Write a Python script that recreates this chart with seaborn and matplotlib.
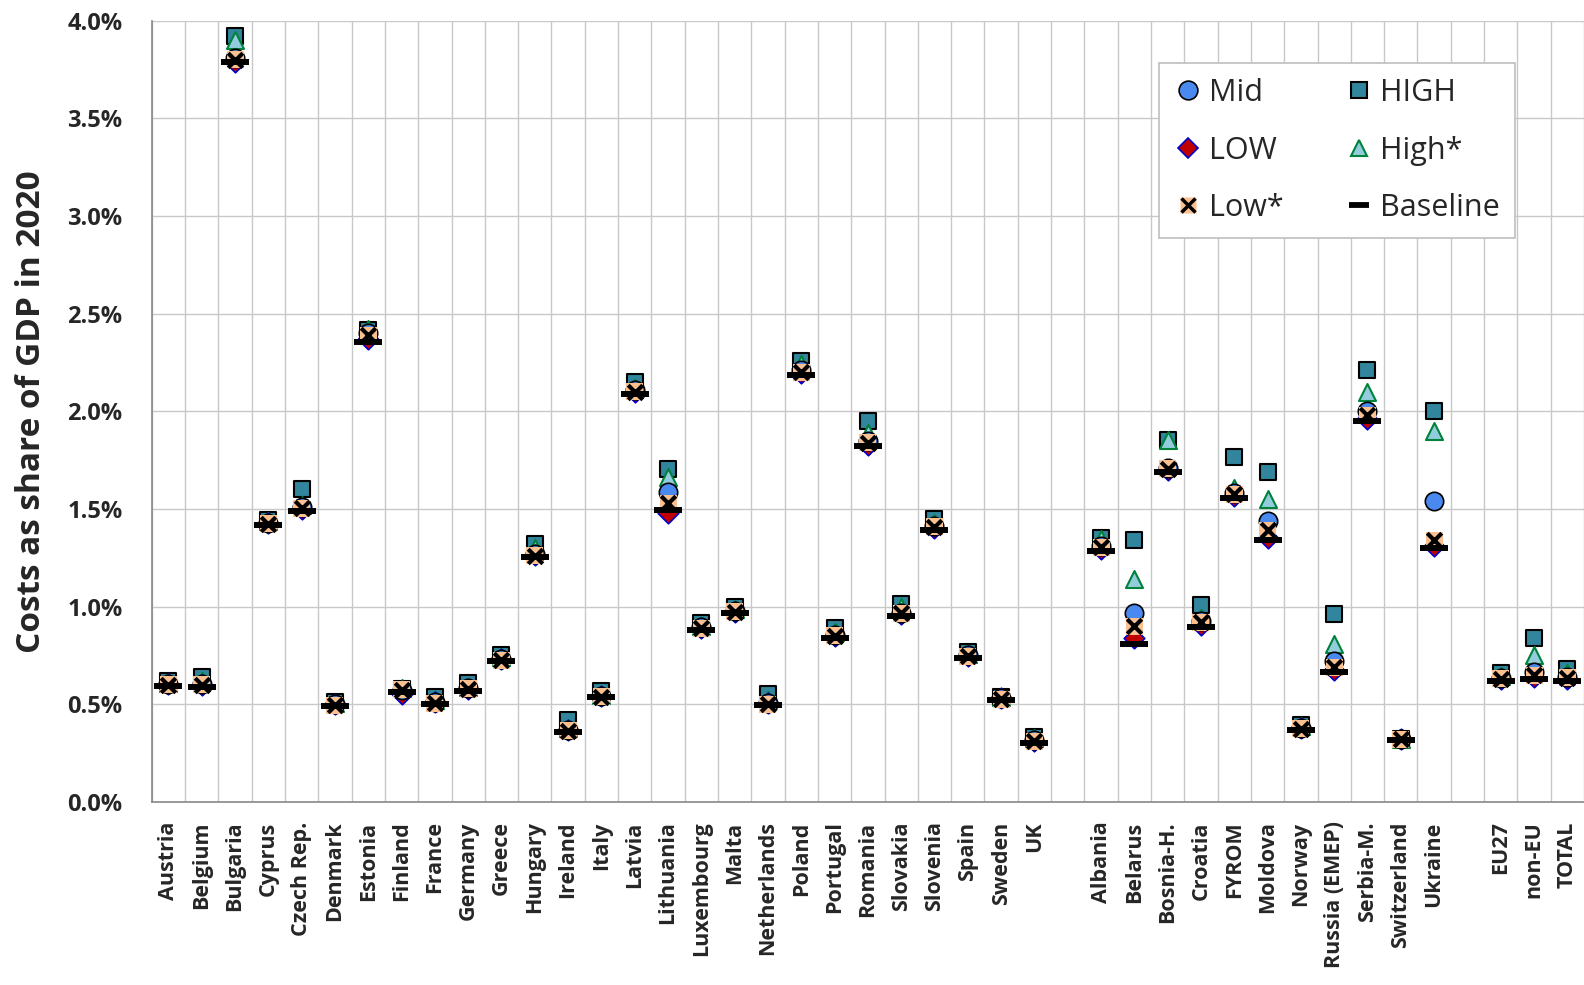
import numpy as np
import pandas as pd
import seaborn as sns
import matplotlib.pyplot as plt
from matplotlib.lines import Line2D
from matplotlib.ticker import FuncFormatter, MultipleLocator

sns.set_style('white')
plt.rcParams['font.family'] = ['Open Sans', 'DejaVu Sans']

# country blocks (an empty column is left between blocks)
eu_countries = ['Austria', 'Belgium', 'Bulgaria', 'Cyprus', 'Czech Rep.', 'Denmark', 'Estonia',
                'Finland', 'France', 'Germany', 'Greece', 'Hungary', 'Ireland', 'Italy', 'Latvia',
                'Lithuania', 'Luxembourg', 'Malta', 'Netherlands', 'Poland', 'Portugal', 'Romania',
                'Slovakia', 'Slovenia', 'Spain', 'Sweden', 'UK']
other_countries = ['Albania', 'Belarus', 'Bosnia-H.', 'Croatia', 'FYROM', 'Moldova', 'Norway',
                   'Russia (EMEP)', 'Serbia-M.', 'Switzerland', 'Ukraine']
totals = ['EU27', 'non-EU', 'TOTAL']

# costs as share of GDP in 2020 (%), per scenario
baseline = [0.595, 0.59, 3.79, 1.42, 1.49, 0.49, 2.355, 0.565, 0.50, 0.57, 0.72, 1.255, 0.36, 0.535,
            2.09, 1.495, 0.88, 0.965, 0.495, 2.185, 0.84, 1.82, 0.95, 1.395, 0.735, 0.52, 0.30,
            1.285, 0.81, 1.69, 0.895, 1.555, 1.34, 0.37, 0.665, 1.95, 0.315, 1.30,
            0.62, 0.63, 0.62]
low = [0.605, 0.60, 3.79, 1.43, 1.50, 0.50, 2.37, 0.555, 0.51, 0.58, 0.73, 1.265, 0.37, 0.545,
       2.10, 1.48, 0.89, 0.975, 0.505, 2.195, 0.85, 1.83, 0.96, 1.405, 0.745, 0.53, 0.31,
       1.295, 0.84, 1.70, 0.905, 1.565, 1.35, 0.38, 0.675, 1.96, 0.325, 1.31,
       0.63, 0.64, 0.63]
low_star = [0.60, 0.60, 3.80, 1.425, 1.505, 0.495, 2.39, 0.575, 0.505, 0.58, 0.725, 1.26, 0.365, 0.54,
            2.10, 1.53, 0.89, 0.975, 0.50, 2.20, 0.85, 1.84, 0.965, 1.41, 0.745, 0.525, 0.31,
            1.305, 0.90, 1.705, 0.92, 1.575, 1.39, 0.375, 0.69, 1.98, 0.32, 1.34,
            0.63, 0.65, 0.635]
mid = [0.605, 0.605, 3.81, 1.43, 1.51, 0.50, 2.40, 0.575, 0.51, 0.585, 0.73, 1.27, 0.37, 0.545,
       2.11, 1.585, 0.895, 0.98, 0.505, 2.21, 0.855, 1.85, 0.97, 1.415, 0.75, 0.53, 0.315,
       1.31, 0.965, 1.71, 0.925, 1.58, 1.44, 0.38, 0.72, 2.00, 0.325, 1.54,
       0.635, 0.665, 0.64]
high_star = [0.61, 0.62, 3.90, 1.44, 1.52, 0.505, 2.42, 0.585, 0.52, 0.59, 0.74, 1.30, 0.38, 0.55,
             2.12, 1.665, 0.90, 0.99, 0.52, 2.24, 0.87, 1.89, 1.00, 1.43, 0.76, 0.535, 0.33,
             1.345, 1.14, 1.855, 0.94, 1.61, 1.55, 0.39, 0.81, 2.10, 0.325, 1.90,
             0.645, 0.75, 0.66]
high = [0.62, 0.64, 3.92, 1.445, 1.60, 0.51, 2.415, 0.58, 0.54, 0.61, 0.75, 1.32, 0.42, 0.57,
        2.15, 1.705, 0.915, 1.00, 0.555, 2.26, 0.89, 1.95, 1.015, 1.45, 0.77, 0.535, 0.335,
        1.35, 1.34, 1.855, 1.01, 1.765, 1.69, 0.395, 0.96, 2.21, 0.325, 2.00,
        0.66, 0.84, 0.68]

countries = eu_countries + other_countries + totals
block = [0] * len(eu_countries) + [1] * len(other_countries) + [2] * len(totals)
df = pd.DataFrame({'country': countries,
                   'pos': np.arange(len(countries)) + np.array(block),
                   'Baseline': baseline, 'LOW': low, 'Low*': low_star,
                   'Mid': mid, 'High*': high_star, 'HIGH': high})

c_mid = '#4A8AF0'
c_high = '#31859C'
c_low = '#C00000'
c_hstar = '#93CDDD'
c_lstar = '#FAC090'

fig = plt.figure(figsize=(15.84, 9.85), dpi=100)
ax = fig.add_axes([0.0958, 0.1858, 0.9042, 0.7932])

# draw the scenarios, bottom to top
sns.scatterplot(data=df, x='pos', y='HIGH', marker='s', s=140, color=c_high,
                edgecolor='black', linewidth=1.5, zorder=3, ax=ax, legend=False)
sns.scatterplot(data=df, x='pos', y='High*', marker='^', s=150, color=c_hstar,
                edgecolor='#00823B', linewidth=1.5, zorder=4, ax=ax, legend=False)
sns.scatterplot(data=df, x='pos', y='LOW', marker='D', s=110, color=c_low,
                edgecolor='#0000CC', linewidth=1.2, zorder=5, ax=ax, legend=False)
sns.scatterplot(data=df, x='pos', y='Mid', marker='o', s=175, color=c_mid,
                edgecolor='black', linewidth=1.2, zorder=6, ax=ax, legend=False)
sns.scatterplot(data=df, x='pos', y='Low*', marker='s', s=150, color=c_lstar,
                edgecolor='none', zorder=7, ax=ax, legend=False)
sns.scatterplot(data=df, x='pos', y='Low*', marker='x', s=110, color='black',
                linewidth=3, zorder=8, ax=ax, legend=False)
sns.scatterplot(data=df, x='pos', y='Baseline', marker='_', s=420, color='black',
                linewidth=4.3, zorder=9, ax=ax, legend=False)

n_cols = int(df['pos'].max()) + 1
ax.set_xlim(-0.5, n_cols - 0.5)
ax.set_ylim(0, 4.0)
ax.yaxis.set_major_locator(MultipleLocator(0.5))
ax.yaxis.set_major_formatter(FuncFormatter(lambda v, p: f'{v:.1f}%'))

ax.set_xticks(df['pos'])
ax.set_xticklabels(df['country'], rotation=90, fontsize=15.5, fontweight='bold')
ax.set_xticks(np.arange(n_cols + 1) - 0.5, minor=True)
ax.tick_params(axis='x', which='major', length=0, pad=14)
ax.tick_params(axis='x', which='minor', length=7, width=1.2, color='#888888')
ax.tick_params(axis='y', which='major', length=7, width=1.2, color='#888888',
               labelsize=17, pad=14)
for t in ax.get_yticklabels():
    t.set_fontweight('bold')

ax.grid(which='minor', axis='x', color='#C8C8C8', linewidth=1.0)
ax.grid(which='major', axis='y', color='#C8C8C8', linewidth=1.0)
ax.set_axisbelow(True)
for side in ['top', 'right']:
    ax.spines[side].set_visible(False)
for side in ['left', 'bottom']:
    ax.spines[side].set_color('#888888')
    ax.spines[side].set_linewidth(1.2)

ax.set_xlabel('')
ax.set_ylabel('Costs as share of GDP in 2020', fontsize=24, fontweight='bold')
ax.yaxis.set_label_coords(-0.0725, 0.5)

# legend: two columns
h_mid = Line2D([], [], ls='', marker='o', ms=13.5, mfc=c_mid, mec='black', mew=1.2)
h_low = Line2D([], [], ls='', marker='D', ms=10.5, mfc=c_low, mec='#0000CC', mew=1.2)
h_lstar = (Line2D([], [], ls='', marker='s', ms=12, mfc=c_lstar, mec='none'),
           Line2D([], [], ls='', marker='x', ms=10, mec='black', mew=2.5))
h_high = Line2D([], [], ls='', marker='s', ms=11.5, mfc=c_high, mec='black', mew=1.5)
h_hstar = Line2D([], [], ls='', marker='^', ms=11.5, mfc=c_hstar, mec='#00823B', mew=1.5)
h_base = Line2D([], [], ls='', marker='_', ms=15, mec='black', mew=4.2)
leg = ax.legend([h_mid, h_low, h_lstar, h_high, h_hstar, h_base],
                ['Mid', 'LOW', 'Low*', 'HIGH', 'High*', 'Baseline'],
                ncol=2, loc='upper right', bbox_to_anchor=(0.952, 0.946),
                borderaxespad=0, fontsize=22, frameon=True, fancybox=False,
                framealpha=1, edgecolor='#BFBFBF', handlelength=0.9,
                handletextpad=0.25, labelspacing=0.9, columnspacing=2.0,
                borderpad=0.5)
leg.get_frame().set_linewidth(1.2)

fig.savefig('out.png', dpi=100)
